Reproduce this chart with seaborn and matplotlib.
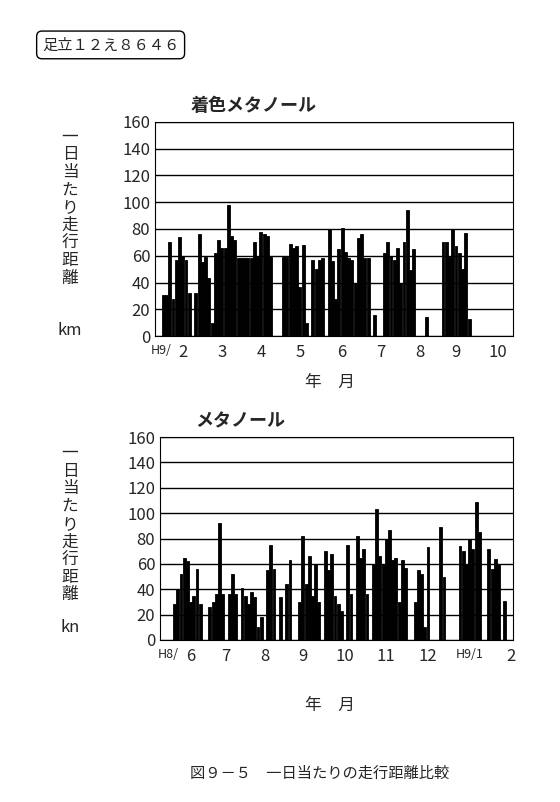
import seaborn as sns
import pandas as pd
import matplotlib.pyplot as plt

# 着色メタノール (H9), one value per slot, 0 = no run
colored_km = [0, 0, 31, 31, 70, 28, 57, 74, 60, 57, 32, 0, 32, 76, 55, 59, 43, 10, 62, 72,
              66, 66, 98, 75, 72, 58, 58, 58, 58, 58, 70, 59, 78, 76, 75, 59, 0, 0, 0, 59,
              59, 69, 66, 67, 37, 68, 10, 0, 57, 50, 57, 58, 0, 80, 56, 28, 65, 81, 63, 58,
              57, 40, 73, 76, 58, 58, 0, 16, 0, 0, 62, 70, 60, 57, 66, 40, 70, 94, 49, 65,
              0, 0, 0, 14, 0, 0, 0, 0, 70, 70, 59, 80, 67, 62, 50, 77, 13, 0, 0, 0,
              0, 0, 0, 0, 0, 0, 0, 0, 0, 0]
colored_ticks = ["H9/", "2", "3", "4", "5", "6", "7", "8", "9", "10"]
colored_tick_pos = [1.5, 8, 20, 32, 44, 57, 69, 81, 92, 105]

# メタノール (H8-H9)
methanol_km = [0, 0, 0, 0, 28, 40, 52, 65, 62, 30, 35, 56, 28, 0, 0, 26, 30, 36, 92, 36,
               0, 36, 52, 36, 0, 41, 35, 28, 38, 34, 10, 18, 0, 55, 75, 56, 0, 34, 0, 44,
               63, 0, 0, 30, 82, 44, 66, 35, 60, 30, 0, 70, 55, 68, 35, 28, 23, 0, 75, 36,
               0, 82, 65, 72, 36, 0, 60, 103, 66, 60, 80, 87, 63, 65, 30, 63, 57, 0, 0, 30,
               55, 52, 10, 73, 0, 0, 0, 89, 50, 0, 0, 0, 0, 74, 70, 60, 80, 72, 109, 85,
               0, 0, 72, 56, 64, 59, 0, 31, 0, 0]
methanol_ticks = ["H8/", "6", "7", "8", "9", "10", "11", "12", "H9/1", "2"]
methanol_tick_pos = [2, 9, 20, 32, 44, 57, 70, 83, 96, 109]

sns.set_style("white")
plt.rcParams['font.family'] = ['Noto Sans CJK JP', 'DejaVu Sans']

fig = plt.figure(figsize=(5.6, 8.02), dpi=100)
ax1 = fig.add_axes([0.277, 0.581, 0.639, 0.267])
ax2 = fig.add_axes([0.286, 0.202, 0.630, 0.253])


def draw(ax, vals, ticks, pos, title):
    df = pd.DataFrame({"slot": range(len(vals)), "km": vals})
    sns.barplot(df, x="slot", y="km", color="black", width=0.9, ax=ax, native_scale=True,
                edgecolor="black", linewidth=0.6)
    ax.set_xlim(-0.5, len(vals) - 0.5)
    ax.set_ylim(0, 160)
    ax.set_yticks(range(0, 161, 20))
    ax.tick_params(axis="y", labelsize=12, length=0)
    ax.set_xticks(pos)
    ax.set_xticklabels(ticks, fontsize=12)
    for lab in ax.get_xticklabels():
        if lab.get_text().startswith("H"):
            lab.set_fontsize(9)
    ax.tick_params(axis="x", length=0, pad=6)
    ax.yaxis.grid(True, color="black", linewidth=1)
    ax.set_axisbelow(True)
    for s in ax.spines.values():
        s.set_color("black")
    ax.set_xlabel("")
    ax.set_ylabel("")
    ax.set_title(title, fontsize=13, fontweight="bold", loc="left", x=0.1, pad=8)


draw(ax1, colored_km, colored_ticks, colored_tick_pos, "着色メタノール")
draw(ax2, methanol_km, methanol_ticks, methanol_tick_pos, "メタノール")

for y in (0.84, 0.445):
    fig.text(0.125, y, "一\n日\n当\nた\nり\n走\n行\n距\n離", fontsize=12,
             ha="center", va="top", linespacing=1.05)
fig.text(0.125, 0.588, "km", fontsize=12, ha="center", va="center")
fig.text(0.125, 0.217, "kn", fontsize=12, ha="center", va="center")
fig.text(0.59, 0.523, "年　月", fontsize=12, ha="center", va="center")
fig.text(0.59, 0.121, "年　月", fontsize=12, ha="center", va="center")
fig.text(0.075, 0.944, "足立１２え８６４６", fontsize=11, ha="left", va="center",
         bbox=dict(boxstyle="round,pad=0.35", fc="white", ec="black"))
fig.text(0.57, 0.036, "図９－５　一日当たりの走行距離比較", fontsize=11, ha="center", va="center")

fig.savefig("out.png", dpi=100)
